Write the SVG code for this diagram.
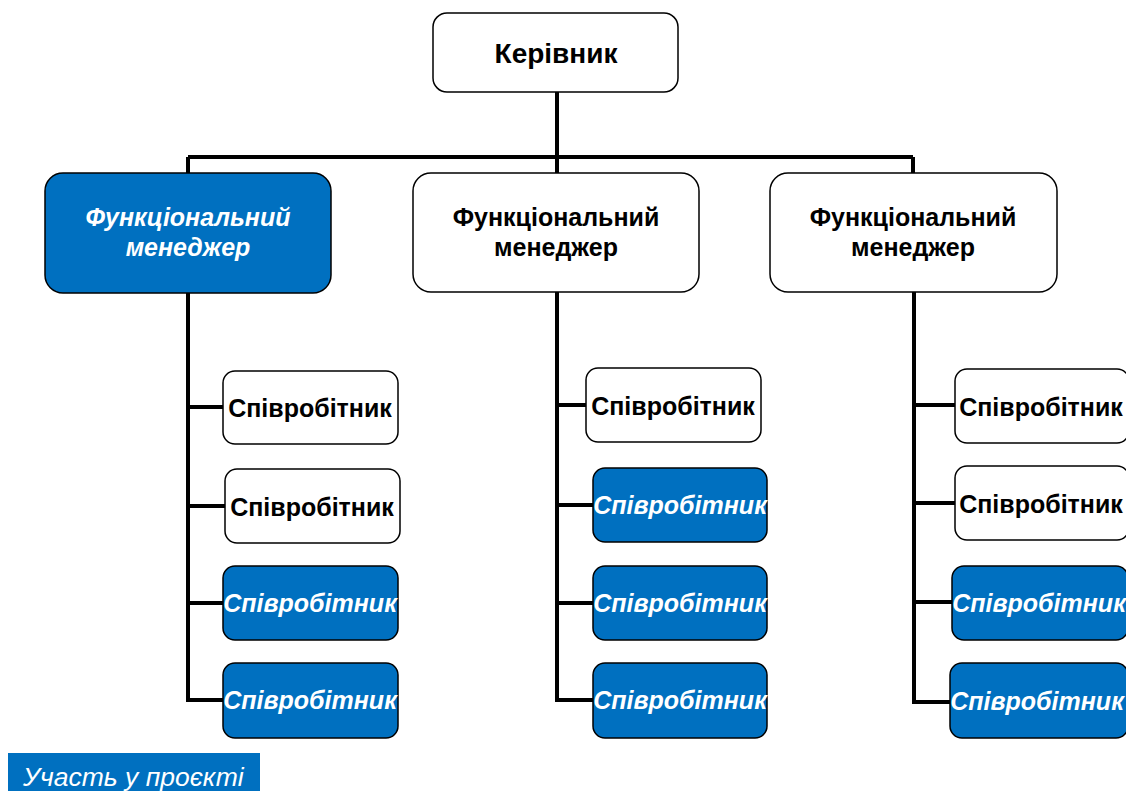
<svg xmlns="http://www.w3.org/2000/svg" width="1126" height="791" viewBox="0 0 1126 791">
  <style>
    .box { fill: #ffffff; stroke: #000000; stroke-width: 1.5; }
    .hl { fill: #0070C0; stroke: #000000; stroke-width: 1.5; }
    .t { font-family: "Liberation Sans", Arial, sans-serif; font-weight: bold; font-size: 25px; fill: #000000; text-anchor: middle; }
    .ti { font-family: "Liberation Sans", Arial, sans-serif; font-weight: bold; font-style: italic; font-size: 25px; fill: #ffffff; text-anchor: middle; }
    .wire { fill: none; stroke: #000000; stroke-width: 4; }
  </style>

  <!-- connectors -->
  <g id="connectors">
    <path class="wire" d="M557 92 V157 M188 157 H913 M188 157 V173 M557 157 V173 M913 157 V173"/>
    <path class="wire" d="M188 293 V700 H223 M188 407 H223 M188 506 H225 M188 603 H223"/>
    <path class="wire" d="M557 292 V700 H593 M557 405 H586 M557 505 H593 M557 603 H593"/>
    <path class="wire" d="M914 292 V702 H952 M914 405 H955 M914 503 H955 M914 602 H952"/>
  </g>

  <g id="boss">
    <rect class="box" x="433" y="13" width="245" height="79" rx="14"/>
    <text class="t" x="556" y="63" style="font-size:28px">Керівник</text>
  </g>

  <g id="manager-1">
    <rect class="hl" x="45" y="173" width="286" height="120" rx="18"/>
    <text class="ti" x="188" y="226">Функціональний</text>
    <text class="ti" x="188" y="256">менеджер</text>
  </g>
  <g id="manager-2">
    <rect class="box" x="413" y="173" width="286" height="119" rx="18"/>
    <text class="t" x="556" y="226">Функціональний</text>
    <text class="t" x="556" y="256">менеджер</text>
  </g>
  <g id="manager-3">
    <rect class="box" x="770" y="173" width="287" height="119" rx="18"/>
    <text class="t" x="913" y="226">Функціональний</text>
    <text class="t" x="913" y="256">менеджер</text>
  </g>

  <!-- column 1 -->
  <g id="emp-1-1">
    <rect class="box" x="223" y="371" width="175" height="73" rx="12"/>
    <text class="t" x="310" y="417">Співробітник</text>
  </g>
  <g id="emp-1-2">
    <rect class="box" x="225" y="469" width="175" height="74" rx="12"/>
    <text class="t" x="312" y="516">Співробітник</text>
  </g>
  <g id="emp-1-3">
    <rect class="hl" x="223" y="566" width="175" height="74" rx="12"/>
    <text class="ti" x="310" y="612">Співробітник</text>
  </g>
  <g id="emp-1-4">
    <rect class="hl" x="223" y="663" width="175" height="75" rx="12"/>
    <text class="ti" x="310" y="709">Співробітник</text>
  </g>

  <!-- column 2 -->
  <g id="emp-2-1">
    <rect class="box" x="586" y="368" width="175" height="74" rx="12"/>
    <text class="t" x="673" y="415">Співробітник</text>
  </g>
  <g id="emp-2-2">
    <rect class="hl" x="593" y="468" width="174" height="74" rx="12"/>
    <text class="ti" x="680" y="514">Співробітник</text>
  </g>
  <g id="emp-2-3">
    <rect class="hl" x="593" y="566" width="174" height="74" rx="12"/>
    <text class="ti" x="680" y="612">Співробітник</text>
  </g>
  <g id="emp-2-4">
    <rect class="hl" x="593" y="663" width="174" height="75" rx="12"/>
    <text class="ti" x="680" y="709">Співробітник</text>
  </g>

  <!-- column 3 -->
  <g id="emp-3-1">
    <rect class="box" x="955" y="369" width="174" height="74" rx="12"/>
    <text class="t" x="1041" y="416">Співробітник</text>
  </g>
  <g id="emp-3-2">
    <rect class="box" x="955" y="466" width="174" height="74" rx="12"/>
    <text class="t" x="1041" y="513">Співробітник</text>
  </g>
  <g id="emp-3-3">
    <rect class="hl" x="952" y="566" width="176" height="74" rx="12"/>
    <text class="ti" x="1039" y="612">Співробітник</text>
  </g>
  <g id="emp-3-4">
    <rect class="hl" x="950" y="663" width="178" height="75" rx="12"/>
    <text class="ti" x="1037" y="710">Співробітник</text>
  </g>

  <!-- legend -->
  <g id="legend">
    <rect x="8" y="753" width="252" height="40" fill="#0070C0"/>
    <text x="23" y="786" font-family="'Liberation Sans', Arial, sans-serif" font-style="italic" font-size="26.5" fill="#ffffff">Участь у проєкті</text>
  </g>
</svg>
